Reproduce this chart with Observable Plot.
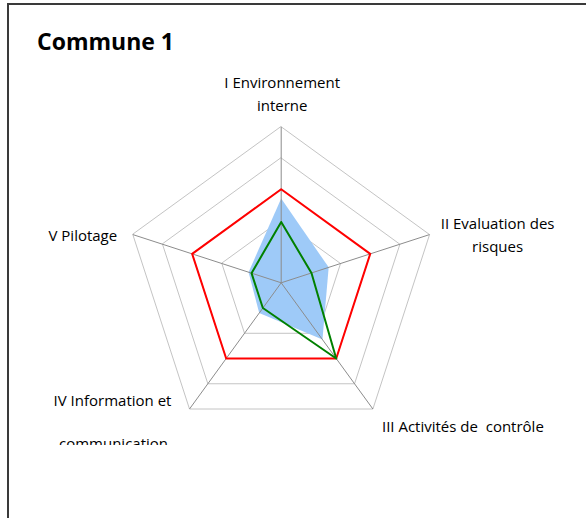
<!DOCTYPE html>
<html>
<head>
<meta charset="utf-8">
<script src="https://cdn.jsdelivr.net/npm/d3@7"></script>
<script src="https://cdn.jsdelivr.net/npm/@observablehq/plot@0.6"></script>
<style>
  html, body { margin: 0; padding: 0; background: #fff; }
  #frame { position: absolute; left: 7px; top: 3px; width: 579px; height: 515px;
           border-left: 2px solid #3a3a3a; border-top: 2px solid #3a3a3a; }
  #title { position: absolute; left: 37px; top: 26px; font-family: "Open Sans", Lato, sans-serif;
           font-weight: bold; font-size: 23px; line-height: 30px; color: #000; }
  #clip { position: absolute; left: 0; top: 0; width: 586px; height: 445px; overflow: hidden; }
</style>
</head>
<body>
<div id="frame"></div>
<div id="clip"><div id="chart"></div></div>
<div id="title">Commune 1</div>
<script>
// Categories (axes of the radar)
const categories = ["I Environnement interne", "II Evaluation des risques", "III Activités de  contrôle", "IV Information et communication", "V Pilotage"];
// Gridline levels
const levels = [1, 2, 3, 4, 5];
// Series values (one per category, in order)
const seriesBlue = [2.7, 1.6, 2.25, 1.2, 1.1];
const seriesRed = [3, 3, 3, 3, 3];
const seriesGreen = [1.95, 1.02, 3.0, 1.0, 1.0];
// Axis label lines
const labelLines = [
  ["I Environnement", "interne"],
  ["II Evaluation des", "risques"],
  ["III Activités de  contrôle"],
  ["IV Information et", "communication"],
  ["V Pilotage"]
];

const n = categories.length;
const angle = (i) => (2 * Math.PI * i) / n;
const px = (i, r) => r * Math.sin(angle(i));
const py = (i, r) => r * Math.cos(angle(i));

const toPoints = (vals) => vals.map((v, i) => ({i, v}));
const ringPoints = levels.flatMap((l) => categories.map((c, i) => ({level: l, i})));
const spokes = categories.map((c, i) => ({i}));
const rMax = d3.max(levels);

const font = "'Open Sans', Lato, sans-serif";

const labelMark = (k, line, opts) =>
  Plot.text([{i: k}], {
    x: (d) => px(d.i, rMax), y: (d) => py(d.i, rMax),
    text: () => labelLines[k][line],
    fontSize: 15, fill: "#000", fontFamily: font, ...opts
  });

const chart = Plot.plot({
  width: 586, height: 518,
  margin: 0,
  x: {domain: [-rMax, rMax], range: [124.7, 436.7], axis: null},
  y: {domain: [-rMax, rMax], range: [438.3, 126.3], axis: null},
  style: {background: "transparent", fontFamily: font},
  marks: [
    // rings
    Plot.line(ringPoints, {
      x: (d) => px(d.i, d.level), y: (d) => py(d.i, d.level), z: "level",
      curve: "linear-closed", stroke: "#c4c4c4", strokeWidth: 1
    }),
    // blue area
    Plot.line(toPoints(seriesBlue), {
      x: (d) => px(d.i, d.v), y: (d) => py(d.i, d.v),
      curve: "linear-closed", fill: "#9ecaf8", stroke: "none"
    }),
    // spokes
    Plot.link(spokes, {
      x1: 0, y1: 0, x2: (d) => px(d.i, rMax), y2: (d) => py(d.i, rMax),
      stroke: "#8c8c8c", strokeWidth: 1
    }),
    // red target
    Plot.line(toPoints(seriesRed), {
      x: (d) => px(d.i, d.v), y: (d) => py(d.i, d.v),
      curve: "linear-closed", stroke: "#ff0000", strokeWidth: 2, fill: "none"
    }),
    // green series
    Plot.line(toPoints(seriesGreen), {
      x: (d) => px(d.i, d.v), y: (d) => py(d.i, d.v),
      curve: "linear-closed", stroke: "#008000", strokeWidth: 2, fill: "none"
    }),
    // axis labels
    labelMark(0, 0, {dx: 1, dy: -44}),
    labelMark(0, 1, {dx: 1, dy: -21}),
    labelMark(1, 0, {dx: 68, dy: -10}),
    labelMark(1, 1, {dx: 68, dy: 13}),
    labelMark(2, 0, {dx: 90, dy: 18}),
    labelMark(3, 0, {dx: -77, dy: -8}),
    labelMark(3, 1, {dx: -76, dy: 35}),
    labelMark(4, 0, {dx: -50, dy: 2})
  ]
});
document.getElementById("chart").appendChild(chart);
</script>
</body>
</html>
